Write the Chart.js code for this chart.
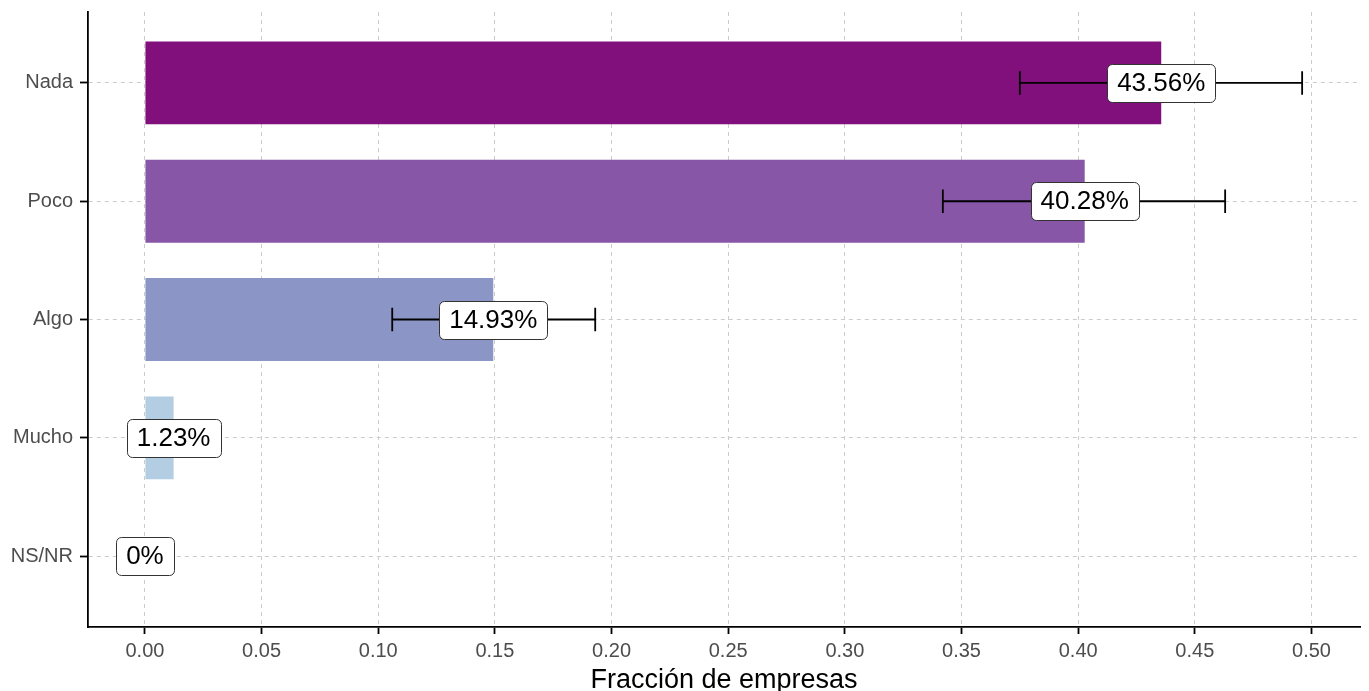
<!DOCTYPE html>
<html>
<head>
<meta charset="utf-8">
<title>Fracción de empresas</title>
<script src="https://cdn.jsdelivr.net/npm/chart.js@4"></script>
<style>
  html, body { margin: 0; padding: 0; background: #fff; overflow: hidden; }
  #wrap { width: 1369px; height: 691px; }
</style>
</head>
<body>
<div id="wrap"><canvas id="chart"></canvas></div>
<script>
// Categories (top to bottom) and the fraction of firms in each
const categories = ['Nada', 'Poco', 'Algo', 'Mucho', 'NS/NR'];
const fraction = [0.4356, 0.4028, 0.1493, 0.0123, 0];
const pctLabels = ['43.56%', '40.28%', '14.93%', '1.23%', '0%'];

// Confidence interval ends (null = no error bar)
const errLow = [0.375, 0.342, 0.106, null, null];
const errHigh = [0.496, 0.463, 0.193, null, null];

// x axis ticks
const xTicks = [0, 0.05, 0.10, 0.15, 0.20, 0.25, 0.30, 0.35, 0.40, 0.45, 0.50];

const barColors = ['#810F7C', '#8856A7', '#8C96C6', '#B3CDE3', '#EDF8FB'];

Chart.defaults.font.family = '"Liberation Sans", Arial, sans-serif';

// error bars + boxed labels, drawn through the chart's scales
const errorBarsAndLabels = {
    id: 'errorBarsAndLabels',
    afterDatasetsDraw(chart) {
        const ctx = chart.ctx;
        const xs = chart.scales.x;
        const ys = chart.scales.y;
        ctx.save();

        ctx.strokeStyle = '#000';
        ctx.lineWidth = 1.8;
        categories.forEach((c, i) => {
            if (errLow[i] === null) return;
            const x0 = xs.getPixelForValue(errLow[i]);
            const x1 = xs.getPixelForValue(errHigh[i]);
            const y = ys.getPixelForValue(i);
            const yt = ys.getPixelForValue(i - 0.1);
            const yb = ys.getPixelForValue(i + 0.1);
            ctx.beginPath();
            ctx.moveTo(x0, y); ctx.lineTo(x1, y);
            ctx.moveTo(x0, yt); ctx.lineTo(x0, yb);
            ctx.moveTo(x1, yt); ctx.lineTo(x1, yb);
            ctx.stroke();
        });

        ctx.font = '26px "Liberation Sans", Arial, sans-serif';
        ctx.textAlign = 'center';
        ctx.textBaseline = 'middle';
        categories.forEach((c, i) => {
            const x = xs.getPixelForValue(fraction[i]);
            const y = ys.getPixelForValue(i);
            const w = ctx.measureText(pctLabels[i]).width + 20;
            const h = 38;
            ctx.beginPath();
            ctx.roundRect(Math.round(x - w / 2) + 0.5, Math.round(y - h / 2) + 0.5, Math.round(w), h, 5);
            ctx.fillStyle = '#fff';
            ctx.fill();
            ctx.strokeStyle = '#333';
            ctx.lineWidth = 1;
            ctx.stroke();
            ctx.fillStyle = '#000';
            ctx.fillText(pctLabels[i], x, y + 1);
        });
        ctx.restore();
    }
};

new Chart(document.getElementById('chart'), {
    type: 'bar',
    data: {
        datasets: [{
            data: fraction.map((v, i) => ({ x: v, y: i })),
            backgroundColor: barColors,
            borderWidth: 0,
            barPercentage: 0.7,
            categoryPercentage: 1
        }]
    },
    options: {
        indexAxis: 'y',
        responsive: true,
        maintainAspectRatio: false,
        animation: false,
        layout: { padding: { top: 12, right: 9, left: 0, bottom: 0 } },
        plugins: {
            legend: { display: false },
            tooltip: { enabled: false }
        },
        scales: {
            x: {
                type: 'linear',
                min: -0.0244,
                max: 0.5208,
                afterBuildTicks: s => { s.ticks = xTicks.map(v => ({ value: v })); },
                afterFit: s => { s.height = 64; s.paddingLeft = 0; s.paddingRight = 0; },
                ticks: {
                    callback: v => v.toFixed(2),
                    color: '#4D4D4D',
                    font: { size: 20 },
                    padding: 5,
                    maxRotation: 0,
                    autoSkip: false
                },
                grid: {
                    color: '#cccccc',
                    lineWidth: 1,
                    tickColor: '#000',
                    tickWidth: 1.8,
                    tickLength: 7
                },
                border: { color: '#000', width: 1.8, dash: [4, 4] },
                title: {
                    display: true,
                    text: 'Fracción de empresas',
                    color: '#000',
                    font: { size: 27, lineHeight: 0.8 },
                    padding: { top: 0, bottom: 0 }
                }
            },
            y: {
                type: 'linear',
                reverse: true,
                offset: false,
                min: -0.6,
                max: 4.6,
                afterBuildTicks: s => { s.ticks = categories.map((c, i) => ({ value: i })); },
                afterFit: s => { s.width = 88; s.paddingTop = 0; s.paddingBottom = 0; },
                ticks: {
                    callback: v => categories[v],
                    color: '#4D4D4D',
                    font: { size: 20 },
                    padding: 7,
                    autoSkip: false
                },
                grid: {
                    offset: false,
                    color: '#cccccc',
                    lineWidth: 1,
                    tickColor: '#000',
                    tickWidth: 1.8,
                    tickLength: 8
                },
                border: { color: '#000', width: 1.8, dash: [4, 4] }
            }
        }
    },
    plugins: [errorBarsAndLabels]
});
</script>
</body>
</html>
